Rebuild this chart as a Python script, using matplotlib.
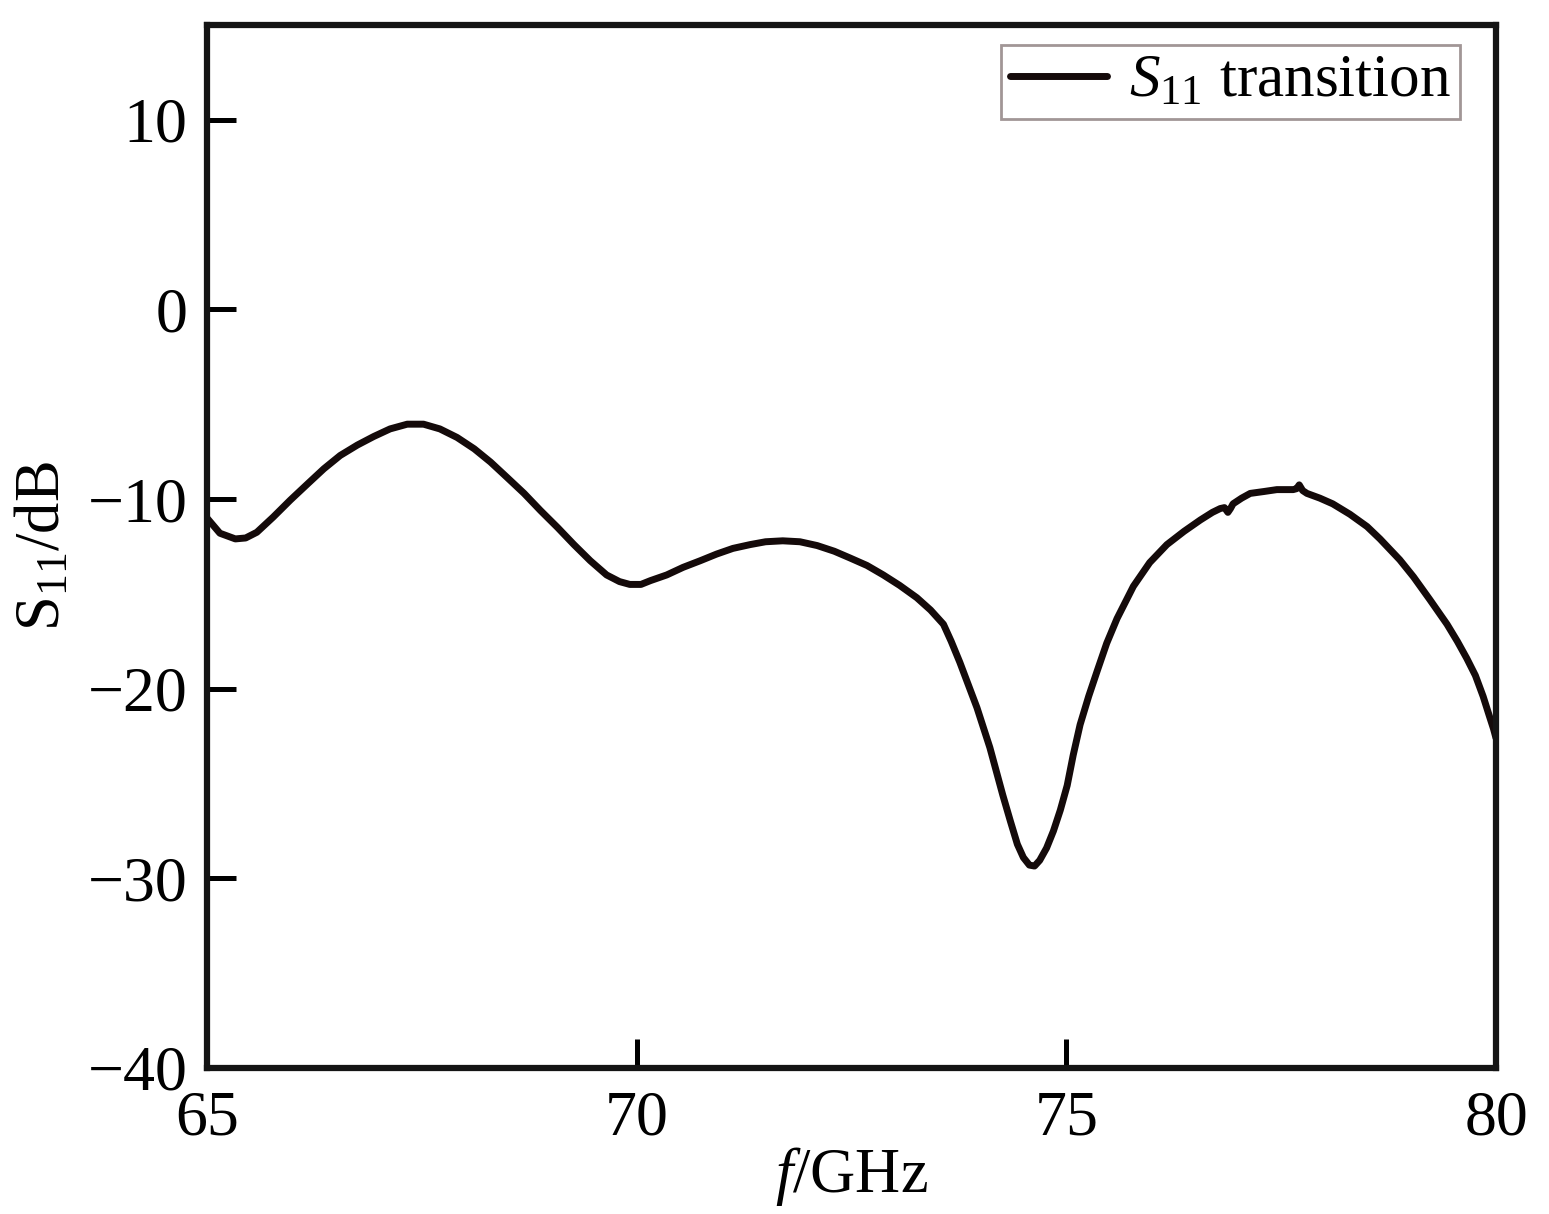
import numpy as np
import matplotlib.pyplot as plt

plt.rcParams['font.family'] = 'Liberation Serif'
plt.rcParams['mathtext.fontset'] = 'custom'
plt.rcParams['mathtext.rm'] = 'Liberation Serif'
plt.rcParams['mathtext.it'] = 'Liberation Serif:italic'

freq = [65.0, 65.15, 65.33, 65.45, 65.58, 65.77, 65.97, 66.17, 66.36, 66.55, 66.75, 66.94,
        67.13, 67.33, 67.52, 67.71, 67.91, 68.11, 68.3, 68.49, 68.69, 68.88, 69.08, 69.27,
        69.46, 69.65, 69.8, 69.92, 70.05, 70.16, 70.35, 70.54, 70.74, 70.93, 71.12, 71.32,
        71.5, 71.7, 71.9, 72.1, 72.3, 72.48, 72.68, 72.87, 73.06, 73.26, 73.42, 73.57,
        73.66, 73.76, 73.86, 73.96, 74.11, 74.26, 74.35, 74.43, 74.5, 74.57, 74.63, 74.69,
        74.77, 74.85, 74.93, 75.01, 75.08, 75.16, 75.26, 75.36, 75.47, 75.59, 75.78, 75.97,
        76.17, 76.37, 76.56, 76.7, 76.79, 76.84, 76.88, 76.91, 76.94, 77.04, 77.14, 77.3,
        77.45, 77.64, 77.68, 77.71, 77.75, 77.8, 77.95, 78.1, 78.3, 78.5, 78.65, 78.88,
        79.04, 79.23, 79.43, 79.55, 79.66, 79.76, 79.85, 79.92, 79.97, 80.0]
s11 = [-11.0, -11.8, -12.1, -12.05, -11.75, -10.95, -10.05, -9.2, -8.4, -7.7, -7.15, -6.7,
       -6.3, -6.05, -6.05, -6.3, -6.75, -7.35, -8.05, -8.85, -9.7, -10.6, -11.5, -12.4,
       -13.25, -14.0, -14.35, -14.5, -14.5, -14.3, -14.0, -13.6, -13.25, -12.9, -12.6, -12.4,
       -12.25, -12.2, -12.25, -12.45, -12.75, -13.1, -13.5, -14.0, -14.55, -15.2, -15.85, -16.6,
       -17.5, -18.6, -19.8, -21.0, -23.1, -25.6, -27.0, -28.2, -28.9, -29.3, -29.35, -29.05,
       -28.4, -27.5, -26.4, -25.1, -23.5, -21.9, -20.4, -19.05, -17.6, -16.3, -14.6, -13.35,
       -12.4, -11.7, -11.1, -10.7, -10.5, -10.45, -10.7, -10.5, -10.25, -9.95, -9.7, -9.6,
       -9.5, -9.5, -9.45, -9.25, -9.55, -9.7, -9.95, -10.25, -10.8, -11.45, -12.1, -13.2,
       -14.1, -15.3, -16.6, -17.5, -18.4, -19.3, -20.4, -21.4, -22.1, -22.6]

fig = plt.figure(figsize=(15.49, 12.14), dpi=100)
ax = fig.add_axes([207 / 1549, 1 - 1068 / 1214, (1496 - 207) / 1549, (1068 - 25) / 1214])

ax.plot(freq, s11, color='#140a0a', lw=5, solid_joinstyle='round', solid_capstyle='round',
        label=r'$S_{\mathrm{11}}$ transition')

ax.set_xlim(65, 80)
ax.set_ylim(-40, 15)
ax.set_xticks([65, 70, 75, 80])
ax.set_yticks([-40, -30, -20, -10, 0, 10])
ax.set_yticklabels(['\u221240', '\u221230', '\u221220', '\u221210', '0', '10'])
ax.tick_params(direction='in', length=21, width=3.6, labelsize=46)
ax.tick_params(axis='x', pad=16)
ax.tick_params(axis='y', pad=14)
for sp in ax.spines.values():
    sp.set_linewidth(4.5)
    sp.set_color('#141414')

ax.set_xlabel(r'$f$/GHz', fontsize=45, labelpad=-2)
ax.set_ylabel(r'S$_{\mathrm{11}}$/dB', fontsize=45, labelpad=10)

leg = ax.legend(loc='upper right', fontsize=44, frameon=True, fancybox=False,
                handlelength=1.6, handletextpad=0.35, borderpad=0.15, borderaxespad=0,
                bbox_to_anchor=(1 - 36 / 1289, 1 - 20 / 1043))
leg.get_frame().set_edgecolor('#8a7c7c')
leg.get_frame().set_linewidth(2)
leg.get_lines()[0].set_linewidth(5)

fig.savefig('out.png', dpi=100)
